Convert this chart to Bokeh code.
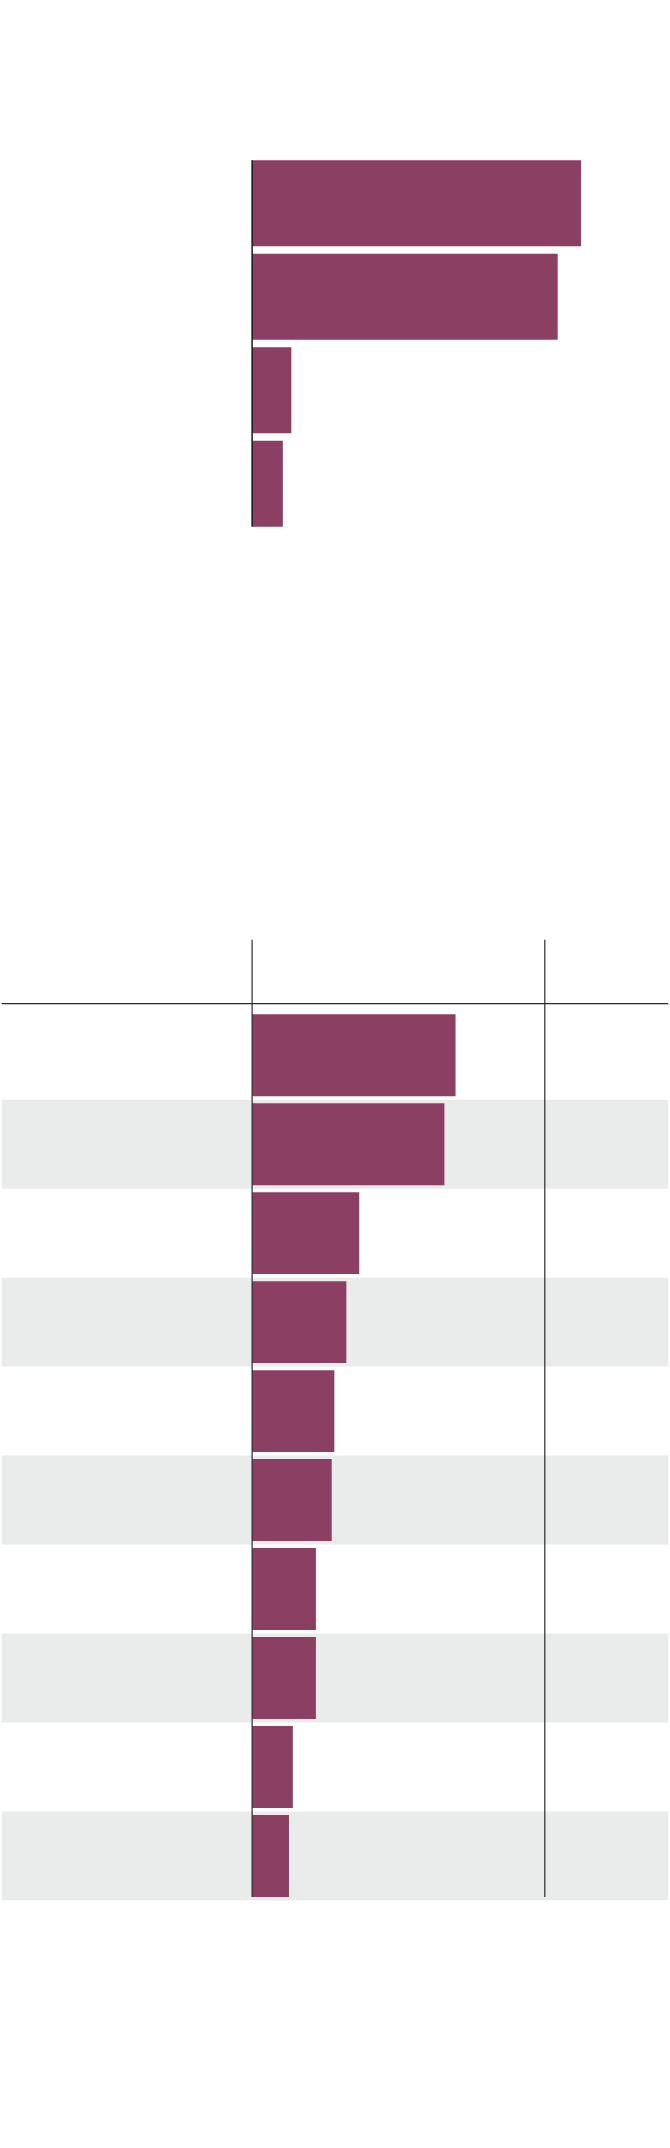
from bokeh.plotting import figure
from bokeh.models import Range1d, ColumnDataSource, Span
from bokeh.layouts import column
from bokeh.embed import file_html
from bokeh.resources import INLINE

# ---- data ----
top_categories = ["A", "B", "C", "D"]
top_values = [112.4, 104.4, 13.4, 10.5]

bottom_categories = ["1", "2", "3", "4", "5", "6", "7", "8", "9", "10"]
bottom_values = [69.5, 65.7, 36.6, 32.2, 28.1, 27.2, 21.8, 21.8, 13.9, 12.6]
reference_value = 100

BAR = "#8b3f62"
GREY = "#eaeceb"
LINE = "#2b2b2b"

X_START, X_END = -85.62, 142.26
W = 670


def base_fig(height, y_range, top, bottom):
    p = figure(width=W, height=height, output_backend="svg", toolbar_location=None,
               x_range=Range1d(X_START, X_END), y_range=y_range,
               min_border_left=1, min_border_right=2,
               min_border_top=top, min_border_bottom=bottom)
    p.axis.visible = False
    p.grid.visible = False
    p.outline_line_color = None
    p.background_fill_color = "white"
    p.border_fill_color = "white"
    return p


# ---- top chart ----
n_top = len(top_categories)
bh_top = 0.922
top = base_fig(880, Range1d(n_top - 0.5, -0.5), 156, 350)
src_top = ColumnDataSource(dict(y=list(range(n_top)), v=top_values, cat=top_categories))
top.hbar(y="y", left=0, right="v", height=bh_top, source=src_top,
         fill_color=BAR, line_color=None)
top.segment(x0=[0], y0=[-bh_top / 2], x1=[0], y1=[n_top - 1 + bh_top / 2],
            line_color="#1a1a1a", line_width=1.5)

# ---- bottom chart ----
n_bot = len(bottom_categories)
bh_bot = 0.921
header_pos = -0.58
bottom = base_fig(1260, Range1d(n_bot - 0.5, -1.3), 59, 240)
grey_rows = [i for i in range(n_bot) if i % 2 == 1]
bottom.hbar(y=grey_rows, left=X_START, right=X_END, height=1.0,
            fill_color=GREY, line_color=None)
src_bot = ColumnDataSource(dict(y=list(range(n_bot)), v=bottom_values, cat=bottom_categories))
bottom.hbar(y="y", left=0, right="v", height=bh_bot, source=src_bot,
            fill_color=BAR, line_color=None)
y_top = bottom.y_range.end
y_bot = n_bot - 1 + bh_bot / 2
bottom.segment(x0=[0, reference_value], y0=[y_top, y_top],
               x1=[0, reference_value], y1=[y_bot, y_bot],
               line_color=LINE, line_width=1.2)
bottom.add_layout(Span(location=header_pos, dimension="width",
                       line_color=LINE, line_width=1.2))

layout = column(top, bottom, spacing=0)
open("out.html", "w").write(file_html(layout, INLINE))
